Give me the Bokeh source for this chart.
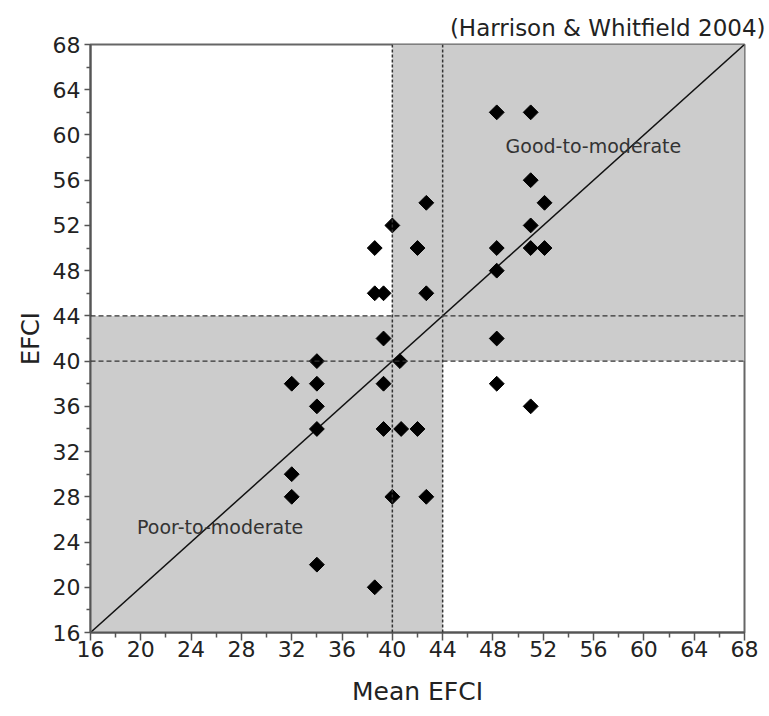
import math
from bokeh.plotting import figure
from bokeh.models import FixedTicker, Range1d, Span
from bokeh.core.properties import value
from bokeh.embed import file_html
from bokeh.resources import INLINE

# ---- data ----
mean_efci = [48.3, 51, 51, 52.1, 42.7, 40, 51, 38.6, 42, 48.3, 51, 52.1, 48.3,
             38.6, 39.3, 42.7, 39.3, 48.3, 34, 40.6, 32, 34, 39.3, 48.3, 34,
             34, 39.3, 40.7, 42, 32, 32, 40, 42.7, 34, 38.6, 51]
efci = [62, 62, 56, 54, 54, 52, 52, 50, 50, 50, 50, 50, 48,
        46, 46, 46, 42, 42, 40, 40, 38, 38, 38, 38, 36,
        34, 34, 34, 34, 30, 28, 28, 28, 22, 20, 36]

axis_min, axis_max = 16, 68
thresholds = [40, 44]
major_ticks = list(range(16, 69, 4))
minor_ticks = list(range(18, 67, 4))
region_labels = ["Good-to-moderate", "Poor-to-moderate"]
region_label_x = [49, 19.7]
region_label_y = [59, 25.3]
source_note = "(Harrison & Whitfield 2004)"

FONT = "DejaVu Sans"

p = figure(width=768, height=714,
           x_range=Range1d(axis_min, axis_max), y_range=Range1d(axis_min, axis_max),
           output_backend="svg", toolbar_location=None,
           min_border_left=90, min_border_right=24, min_border_top=44, min_border_bottom=82)
p.grid.visible = False
p.outline_line_color = "#666666"
p.outline_line_width = 2
p.background_fill_color = "white"
p.border_fill_color = "white"

p.title.text = source_note
p.title.align = "right"
p.title.text_font = FONT
p.title.text_font_style = "normal"
p.title.text_font_size = "23px"
p.title.text_color = "#222222"
p.title.offset = -21
p.title.standoff = 8

# shaded regions: below/left of upper threshold, above/right of lower threshold
lo, hi = thresholds
p.quad(left=[axis_min, lo], right=[hi, axis_max], bottom=[axis_min, lo], top=[hi, axis_max],
       fill_color="#cccccc", line_color=None)

for t in thresholds:
    p.add_layout(Span(location=t, dimension="height", line_color="#333333",
                      line_width=1.5, line_dash="3 2"))
    p.add_layout(Span(location=t, dimension="width", line_color="#333333",
                      line_width=1.2, line_dash="5 3"))

p.line([axis_min, axis_max], [axis_min, axis_max], line_color="#111111", line_width=1.5)

p.scatter(mean_efci, efci, marker="square", angle=math.pi / 4, size=10.5,
          fill_color="black", line_color="black")

p.text(x=region_label_x, y=region_label_y, text=region_labels,
       text_baseline="middle", text_align="left",
       text_font=value(FONT), text_font_size="19px", text_color="#333333")

for ax, tout, mout in ((p.xaxis, 8, 5), (p.yaxis, 6, 4)):
    ax.ticker = FixedTicker(ticks=major_ticks, minor_ticks=minor_ticks)
    ax.major_tick_out = tout
    ax.major_tick_in = 0
    ax.minor_tick_out = mout
    ax.minor_tick_in = 0
    ax.axis_line_color = "#555555"
    ax.axis_line_width = 2
    ax.major_tick_line_color = "#555555"
    ax.minor_tick_line_color = "#555555"
    ax.major_tick_line_width = 1.5
    ax.minor_tick_line_width = 1.5
    ax.major_label_text_font = FONT
    ax.major_label_text_font_size = "22px"
    ax.major_label_text_color = "#222222"
    ax.axis_label_text_font = FONT
    ax.axis_label_text_font_style = "normal"
    ax.axis_label_text_color = "#222222"

p.xaxis.axis_label = "Mean EFCI"
p.xaxis.axis_label_text_font_size = "25px"
p.xaxis.major_label_standoff = 0
p.xaxis.axis_label_standoff = 17
p.yaxis.axis_label = "EFCI"
p.yaxis.axis_label_text_font_size = "24px"
p.yaxis.major_label_standoff = 4
p.yaxis.axis_label_standoff = 5

open("out.html", "w").write(file_html(p, INLINE))
